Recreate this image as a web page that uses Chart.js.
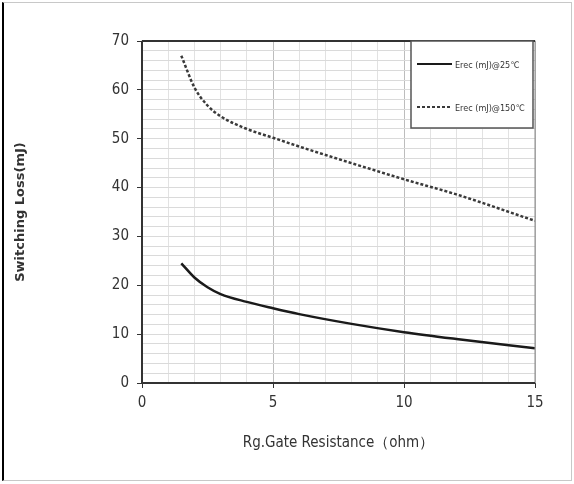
<!DOCTYPE html>
<html>
<head>
<meta charset="utf-8">
<script src="https://cdn.jsdelivr.net/npm/chart.js@4"></script>
<style>
  html, body { margin: 0; padding: 0; background: #fff; }
  #wrap { position: relative; width: 574px; height: 484px; }
  #frame { position: absolute; left: 2px; top: 2px; width: 567px; height: 477px;
           border: 1px solid #c8c8c8; border-left: 2px solid #000; pointer-events: none; }
</style>
</head>
<body>
<div id="wrap">
  <canvas id="lossChart" width="574" height="484"></canvas>
  <div id="frame"></div>
</div>
<script>
// Switching loss vs gate resistance

const resistance = [1.5, 2, 2.5, 3, 4, 5, 6, 8, 10, 12, 15];
const erec25 = [24.5, 21.6, 19.6, 18.2, 16.6, 15.3, 14.1, 12.1, 10.4, 9.0, 7.1];
const erec150 = [67, 60.5, 56.8, 54.6, 52.0, 50.2, 48.4, 45.0, 41.7, 38.6, 33.2];
const xTicks = [0, 5, 10, 15];
const yTicks = [0, 10, 20, 30, 40, 50, 60, 70];

const narrow = "'Liberation Sans Narrow', 'DejaVu Sans Condensed', 'Liberation Sans', sans-serif";

// frame round the plot area plus the legend box in the top right corner
const plotFrame = {
  id: "plotFrame",
  afterDraw(chart) {
    const { ctx, chartArea: a } = chart;
    ctx.save();
    ctx.strokeStyle = "#8a8a8a";
    ctx.lineWidth = 1;
    ctx.strokeRect(a.left, a.top, a.right - a.left, a.bottom - a.top);
    ctx.strokeStyle = "#333";
    ctx.lineWidth = 2;
    ctx.beginPath();
    ctx.moveTo(a.left, a.top);
    ctx.lineTo(a.right, a.top);
    ctx.moveTo(a.left, a.top);
    ctx.lineTo(a.left, a.bottom);
    ctx.lineTo(a.right, a.bottom);
    ctx.stroke();

    // legend
    const bx = a.right - 124, by = a.top, bw = 122, bh = 87;
    ctx.fillStyle = "#fff";
    ctx.fillRect(bx, by, bw, bh);
    ctx.strokeStyle = "#555";
    ctx.lineWidth = 1.5;
    ctx.strokeRect(bx, by, bw, bh);
    ctx.font = "9px " + narrow;
    ctx.textBaseline = "middle";
    chart.data.datasets.forEach((ds, i) => {
      const ly = by + 23 + i * 43;
      ctx.strokeStyle = ds.borderColor;
      ctx.lineWidth = 2;
      ctx.setLineDash(ds.borderDash || []);
      ctx.beginPath();
      ctx.moveTo(bx + 6, ly);
      ctx.lineTo(bx + 41, ly);
      ctx.stroke();
      ctx.setLineDash([]);
      ctx.fillStyle = "#333";
      ctx.fillText(ds.label, bx + 44, ly + 2);
    });
    ctx.restore();
  },
};

const lossChart = document.getElementById("lossChart").getContext("2d");

new Chart(lossChart, {
  type: "line",
  data: {
    datasets: [
      {
        label: "Erec (mJ)@25\u2103",
        data: resistance.map((r, i) => ({ x: r, y: erec25[i] })),
        borderColor: "#1a1a1a",
        borderWidth: 2.5,
        pointRadius: 0,
        cubicInterpolationMode: "monotone",
        fill: false,
      },
      {
        label: "Erec (mJ)@150\u2103",
        data: resistance.map((r, i) => ({ x: r, y: erec150[i] })),
        borderColor: "#3a3a3a",
        borderWidth: 2.5,
        borderDash: [3, 2],
        pointRadius: 0,
        cubicInterpolationMode: "monotone",
        fill: false,
      },
    ],
  },
  options: {
    responsive: false,
    animation: false,
    layout: { padding: { left: 9, right: 39, top: 41, bottom: 32 } },
    plugins: {
      legend: { display: false },
      tooltip: { enabled: false },
    },
    scales: {
      x: {
        type: "linear",
        min: 0,
        max: 15,
        afterBuildTicks: (axis) => {
          axis.ticks = [];
          for (let v = 0; v <= 15; v++) axis.ticks.push({ value: v });
        },
        afterFit: (axis) => { axis.height = 69; },
        ticks: {
          autoSkip: false,
          maxRotation: 0,
          padding: 6,
          color: "#333",
          font: { family: narrow, size: 15 },
          callback: (v) => (xTicks.includes(v) ? v : ""),
        },
        grid: {
          color: (c) => (c.tick && c.tick.value % 5 === 0 ? "#bdbdbd" : "#e2e2e2"),
          tickColor: (c) => (c.tick && c.tick.value % 5 === 0 ? "#333" : "rgba(0,0,0,0)"),
          tickLength: 5,
        },
        border: { display: false },
        title: {
          display: true,
          text: "Rg.Gate Resistance（ohm）",
          color: "#333",
          font: { family: narrow, size: 15 },
          padding: { top: 4, bottom: 0 },
        },
      },
      y: {
        min: 0,
        max: 70,
        afterBuildTicks: (axis) => {
          axis.ticks = [];
          for (let v = 0; v <= 70; v += 2) axis.ticks.push({ value: v });
        },
        afterFit: (axis) => { axis.width = 133; },
        ticks: {
          autoSkip: false,
          padding: 8,
          color: "#333",
          font: { family: narrow, size: 15 },
          callback: (v) => (yTicks.includes(v) ? v : ""),
        },
        grid: {
          color: "#dadada",
          tickColor: (c) => (c.tick && c.tick.value % 10 === 0 ? "#333" : "rgba(0,0,0,0)"),
          tickLength: 5,
        },
        border: { display: false },
        title: {
          display: true,
          text: "Switching Loss(mJ)",
          color: "#333",
          font: { family: "'DejaVu Sans', sans-serif", size: 13, weight: "bold" },
          padding: { bottom: 0 },
        },
      },
    },
  },
  plugins: [plotFrame],
});
</script>
</body>
</html>
